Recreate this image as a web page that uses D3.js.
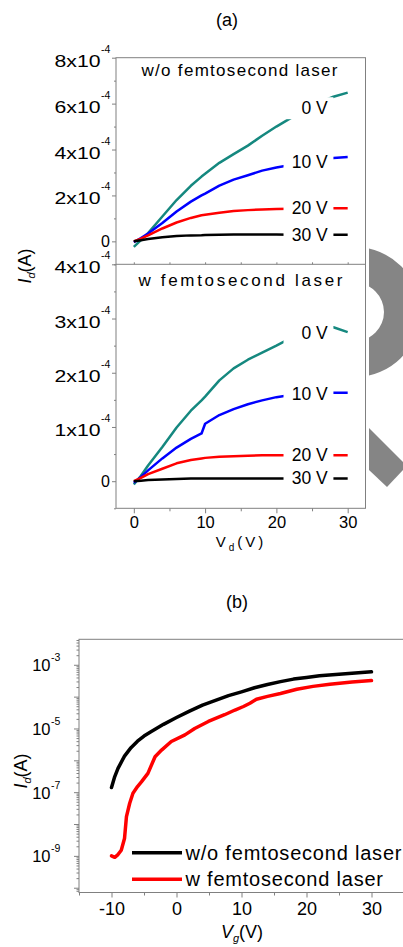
<!DOCTYPE html>
<html>
<head>
<meta charset="utf-8">
<script src="https://cdn.jsdelivr.net/npm/d3@7"></script>
<style>
  body { margin: 0; background: #fff; }
  text { font-family: "Liberation Sans", Arial, sans-serif; fill: #000; }
</style>
</head>
<body>
<script>
// ---- panel (a): output curves, Vd sweep at several gate voltages ----
var vdA = [0, 1, 2, 4, 6, 8, 9.5, 10, 12, 14, 16, 18, 20, 22, 24, 26, 28, 30];
var gateLabels = ["0 V", "10 V", "20 V", "30 V"];
var gateColors = ["#15887f", "#0000ff", "#ff0000", "#000000"];

// without femtosecond laser
var woLaser0V  = [-0.24e-4, 0.05e-4, 0.36e-4, 1.08e-4, 1.80e-4, 2.42e-4, 2.82e-4, 2.94e-4, 3.42e-4, 3.80e-4, 4.17e-4, 4.60e-4, 5.00e-4, 5.37e-4, 5.72e-4, 6.04e-4, 6.30e-4, 6.48e-4];
var woLaser10V = [-0.04e-4, 0.14e-4, 0.34e-4, 0.80e-4, 1.30e-4, 1.73e-4, 2.00e-4, 2.08e-4, 2.43e-4, 2.69e-4, 2.88e-4, 3.08e-4, 3.22e-4, 3.33e-4, 3.44e-4, 3.54e-4, 3.63e-4, 3.67e-4];
var woLaser20V = [0, 0.12e-4, 0.26e-4, 0.56e-4, 0.82e-4, 1.02e-4, 1.14e-4, 1.16e-4, 1.25e-4, 1.32e-4, 1.36e-4, 1.39e-4, 1.41e-4, 1.42e-4, 1.43e-4, 1.44e-4, 1.44e-4, 1.44e-4];
var woLaser30V = [0, 0.05e-4, 0.10e-4, 0.18e-4, 0.23e-4, 0.26e-4, 0.27e-4, 0.28e-4, 0.29e-4, 0.30e-4, 0.30e-4, 0.30e-4, 0.30e-4, 0.29e-4, 0.29e-4, 0.29e-4, 0.29e-4, 0.29e-4];

// with femtosecond laser
var wLaser0V  = [-0.06e-4, 0.10e-4, 0.29e-4, 0.63e-4, 0.99e-4, 1.30e-4, 1.49e-4, 1.56e-4, 1.86e-4, 2.08e-4, 2.24e-4, 2.37e-4, 2.50e-4, 2.64e-4, 2.72e-4, 2.78e-4, 2.84e-4, 2.75e-4];
var wLaser10V = [-0.03e-4, 0.08e-4, 0.20e-4, 0.42e-4, 0.62e-4, 0.78e-4, 0.88e-4, 1.06e-4, 1.22e-4, 1.33e-4, 1.42e-4, 1.49e-4, 1.55e-4, 1.59e-4, 1.61e-4, 1.62e-4, 1.63e-4, 1.63e-4];
var wLaser20V = [0, 0.06e-4, 0.13e-4, 0.23e-4, 0.33e-4, 0.39e-4, 0.42e-4, 0.43e-4, 0.45e-4, 0.46e-4, 0.47e-4, 0.48e-4, 0.48e-4, 0.48e-4, 0.48e-4, 0.48e-4, 0.48e-4, 0.48e-4];
var wLaser30V = [0, 0.01e-4, 0.02e-4, 0.03e-4, 0.04e-4, 0.05e-4, 0.05e-4, 0.05e-4, 0.05e-4, 0.05e-4, 0.05e-4, 0.05e-4, 0.05e-4, 0.05e-4, 0.05e-4, 0.05e-4, 0.05e-4, 0.05e-4];

var topTicks = [0, 2e-4, 4e-4, 6e-4, 8e-4];
var topMinor = [-1e-4, 1e-4, 3e-4, 5e-4, 7e-4];
var botTicks = [0, 1e-4, 2e-4, 3e-4, 4e-4];
var botMinor = [-0.5e-4, 0.5e-4, 1.5e-4, 2.5e-4, 3.5e-4];
var vdTicks = [0, 10, 20, 30];
var vdMinor = [5, 15, 25];

// ---- panel (b): transfer curves, log scale ----
var vgWithout = [-10, -9.5, -9, -8, -7, -6, -5, -4, -2, 0, 2, 4, 6, 8, 10, 12, 14, 16, 18, 20, 22, 24, 26, 28, 30];
var idWithout = [1.4e-7, 3.1e-7, 5.6e-7, 1.35e-6, 2.5e-6, 4.0e-6, 5.8e-6, 7.8e-6, 1.35e-5, 2.2e-5, 3.5e-5, 5.4e-5, 7.6e-5, 1.07e-4, 1.41e-4, 1.9e-4, 2.4e-4, 2.95e-4, 3.55e-4, 4.0e-4, 4.5e-4, 4.9e-4, 5.25e-4, 5.6e-4, 6.0e-4];
var vgWith = [-10, -9.5, -9, -8.5, -8, -7.7, -7.2, -6.7, -6, -5.4, -4.4, -3.3, -2.3, -0.8, 1.3, 2.8, 4.9, 7.4, 9, 10.3, 11.3, 12.3, 14, 16, 18.5, 21, 23.6, 27, 30];
var idWith = [1.0e-9, 9.0e-10, 1.1e-9, 1.5e-9, 3.5e-9, 1.7e-8, 4.5e-8, 9.3e-8, 1.5e-7, 2.1e-7, 3.9e-7, 1.3e-6, 2.1e-6, 3.9e-6, 6.3e-6, 1.0e-5, 1.66e-5, 2.7e-5, 3.8e-5, 4.9e-5, 6.2e-5, 8.3e-5, 1.02e-4, 1.26e-4, 1.7e-4, 2.1e-4, 2.45e-4, 2.9e-4, 3.2e-4];
var vgTicks = [-10, 0, 10, 20, 30];
var vgMinor = [-15, -5, 5, 15, 25];
var logLabelExps = [-9, -7, -5, -3];
var legendNames = ["w/o femtosecond laser", "w femtosecond laser"];
var legendColors = ["#000000", "#ff0000"];

var axisGrey = "#808080";

var svg = d3.select("body").append("svg")
  .attr("width", 403)
  .attr("height", 947);

// grey shapes on the right edge (part of the original figure background)
var clip = svg.append("clipPath").attr("id", "ringclip");
clip.append("rect").attr("x", 369).attr("y", 0).attr("width", 40).attr("height", 947);
svg.append("g")
  .attr("clip-path", "url(#ringclip)")
  .append("path")
  .attr("fill", "#858585")
  .attr("d", d3.arc().innerRadius(29).outerRadius(65).startAngle(0).endAngle(Math.PI * 2)())
  .attr("transform", "translate(355,312)");
svg.append("path")
  .attr("fill", "#858585")
  .attr("d", "M369,428 L403,462 L403,470 L387,487 L369,470 Z");

function valueAt(xs, ys, x0) {
  var i = d3.bisectLeft(xs, x0);
  var t = (x0 - xs[i - 1]) / (xs[i] - xs[i - 1]);
  return ys[i - 1] + t * (ys[i] - ys[i - 1]);
}

function cleanAxis(g) {
  g.select(".domain").remove();
  g.selectAll("line").attr("stroke", axisGrey);
}

// ================= panel (a) =================
var xA = d3.scaleLinear().domain([-2.5, 32.5]).range([116, 365.5]);
var yTop = d3.scaleLinear().domain([-1e-4, 8e-4]).range([264.3, 57.7]);
var yBot = d3.scaleLinear().domain([-0.5e-4, 4e-4]).range([508.3, 264.3]);

svg.append("text")
  .attr("x", 227).attr("y", 26)
  .attr("text-anchor", "middle")
  .attr("font-size", 18)
  .text("(a)");

function drawCurves(y, series) {
  var line = d3.line()
    .x(function(d, j) { return xA(vdA[j]); })
    .y(function(d) { return y(d); });

  svg.append("g").selectAll("path")
    .data(series)
    .join("path")
    .attr("d", line)
    .attr("fill", "none")
    .attr("stroke", function(d, i) { return gateColors[i]; })
    .attr("stroke-width", 2.5)
    .attr("stroke-linejoin", "round");

  // gate labels sit on the curve, with a white box that cuts the line
  var lab = svg.append("g").selectAll("g")
    .data(series)
    .join("g")
    .attr("transform", function(d) { return "translate(0," + y(valueAt(vdA, d, 24.5)) + ")"; });
  lab.append("rect")
    .attr("x", xA(21)).attr("y", -11)
    .attr("width", xA(28) - xA(21)).attr("height", 22)
    .attr("fill", "#fff");
  lab.append("text")
    .attr("x", xA(27.2)).attr("y", 6)
    .attr("text-anchor", "end")
    .attr("font-size", 17.5)
    .text(function(d, i) { return gateLabels[i]; });
}

drawCurves(yTop, [woLaser0V, woLaser10V, woLaser20V, woLaser30V]);
drawCurves(yBot, [wLaser0V, wLaser10V, wLaser20V, wLaser30V]);

// frame and divider
svg.append("rect")
  .attr("x", xA.range()[0]).attr("y", yTop.range()[1])
  .attr("width", xA.range()[1] - xA.range()[0])
  .attr("height", yBot.range()[0] - yTop.range()[1])
  .attr("fill", "none").attr("stroke", axisGrey);
svg.append("line")
  .attr("x1", xA.range()[0]).attr("x2", xA.range()[1])
  .attr("y1", yTop(-1e-4)).attr("y2", yTop(-1e-4))
  .attr("stroke", axisGrey);

// left ticks
svg.append("g").attr("transform", "translate(116,0)")
  .call(d3.axisLeft(yTop).tickValues(topTicks).tickSize(4).tickFormat("")).call(cleanAxis);
svg.append("g").attr("transform", "translate(116,0)")
  .call(d3.axisLeft(yTop).tickValues(topMinor).tickSize(2).tickFormat("")).call(cleanAxis);
svg.append("g").attr("transform", "translate(116,0)")
  .call(d3.axisLeft(yBot).tickValues(botTicks).tickSize(4).tickFormat("")).call(cleanAxis);
svg.append("g").attr("transform", "translate(116,0)")
  .call(d3.axisLeft(yBot).tickValues(botMinor).tickSize(2).tickFormat("")).call(cleanAxis);

// small ticks on the divider
svg.append("g").attr("transform", "translate(0," + yTop(-1e-4) + ")")
  .call(d3.axisTop(xA).tickValues(vdTicks.concat(vdMinor)).tickSize(2).tickFormat("")).call(cleanAxis);

function sciLabels(y, vals) {
  vals.forEach(function(v) {
    var ty = y(v);
    if (v === 0) {
      svg.append("text")
        .attr("x", 110).attr("y", ty + 5.5)
        .attr("text-anchor", "end").attr("font-size", 16)
        .text("0");
    } else {
      svg.append("text")
        .attr("x", 100.5).attr("y", ty + 9)
        .attr("text-anchor", "end").attr("font-size", 16)
        .attr("textLength", 46).attr("lengthAdjust", "spacingAndGlyphs")
        .text(Math.round(v * 1e4) + "x10");
      svg.append("text")
        .attr("x", 101).attr("y", ty - 5)
        .attr("font-size", 10.5)
        .text("-4");
    }
  });
}
sciLabels(yTop, topTicks);
sciLabels(yBot, botTicks);

// bottom axis
var xAxisA = svg.append("g").attr("transform", "translate(0," + yBot.range()[0] + ")")
  .call(d3.axisBottom(xA).tickValues(vdTicks).tickSize(5).tickPadding(3)
    .tickFormat(function(d) { return String(d); }));
xAxisA.call(cleanAxis);
xAxisA.selectAll("text").attr("font-size", 16.5).attr("font-family", null).attr("fill", "#000");
svg.append("g").attr("transform", "translate(0," + yBot.range()[0] + ")")
  .call(d3.axisBottom(xA).tickValues(vdMinor).tickSize(3).tickFormat("")).call(cleanAxis);

// in-panel titles
svg.append("text")
  .attr("x", 141.5).attr("y", 76)
  .attr("font-size", 17)
  .attr("textLength", 196).attr("lengthAdjust", "spacing")
  .text("w/o femtosecond laser");
svg.append("text")
  .attr("x", 138.5).attr("y", 286)
  .attr("font-size", 17)
  .attr("textLength", 204).attr("lengthAdjust", "spacing")
  .text("w femtosecond laser");

// axis titles (a)
var xtA = svg.append("text")
  .attr("x", 241).attr("y", 547)
  .attr("text-anchor", "middle")
  .attr("font-size", 15)
  .attr("letter-spacing", 3);
xtA.append("tspan").text("V");
xtA.append("tspan").attr("font-size", 10).attr("dy", 4).text("d");
xtA.append("tspan").attr("dy", -4).text("(V)");

var ytA = svg.append("text")
  .attr("transform", "translate(31,266) rotate(-90)")
  .attr("text-anchor", "middle")
  .attr("font-size", 18);
ytA.append("tspan").attr("font-style", "italic").text("I");
ytA.append("tspan").attr("font-style", "italic").attr("font-size", 11).attr("dy", 4).text("d");
ytA.append("tspan").attr("dy", -4).text("(A)");

// ================= panel (b) =================
var xB = d3.scaleLinear().domain([-15, 35]).range([79, 404]);
var yB = d3.scaleLog().domain([Math.pow(10, -10.15), Math.pow(10, -2.2)]).range([892.5, 639.3]);

svg.append("text")
  .attr("x", 237).attr("y", 608)
  .attr("text-anchor", "middle")
  .attr("font-size", 18)
  .text("(b)");

svg.append("rect")
  .attr("x", 79).attr("y", yB.range()[1])
  .attr("width", 325).attr("height", yB.range()[0] - yB.range()[1])
  .attr("fill", "none").attr("stroke", axisGrey);

var lineB = d3.line()
  .x(function(d) { return xB(d[0]); })
  .y(function(d) { return yB(d[1]); });

svg.append("path")
  .datum(d3.zip(vgWithout, idWithout))
  .attr("d", lineB)
  .attr("fill", "none").attr("stroke", legendColors[0])
  .attr("stroke-width", 3.5).attr("stroke-linejoin", "round").attr("stroke-linecap", "round");
svg.append("path")
  .datum(d3.zip(vgWith, idWith))
  .attr("d", lineB)
  .attr("fill", "none").attr("stroke", legendColors[1])
  .attr("stroke-width", 3.5).attr("stroke-linejoin", "round").attr("stroke-linecap", "round");

// log ticks
var allLog = yB.ticks();
var decades = allLog.filter(function(v) { return Math.abs(Math.log10(v) - Math.round(Math.log10(v))) < 1e-9; });
var minors = allLog.filter(function(v) { return decades.indexOf(v) < 0; });
svg.append("g").attr("transform", "translate(79,0)")
  .call(d3.axisLeft(yB).tickValues(decades).tickSize(5).tickFormat("")).call(cleanAxis);
svg.append("g").attr("transform", "translate(79,0)")
  .call(d3.axisLeft(yB).tickValues(minors).tickSize(2.5).tickFormat("")).call(cleanAxis);

logLabelExps.forEach(function(e) {
  var ty = yB(Math.pow(10, e));
  svg.append("text")
    .attr("x", 50.5).attr("y", ty + 6.5)
    .attr("text-anchor", "end").attr("font-size", 16.5)
    .text("10");
  svg.append("text")
    .attr("x", 51).attr("y", ty - 3.5)
    .attr("font-size", 10.5)
    .text(String(e));
});

var xAxisB = svg.append("g").attr("transform", "translate(0," + yB.range()[0] + ")")
  .call(d3.axisBottom(xB).tickValues(vgTicks).tickSize(5).tickPadding(5)
    .tickFormat(function(d) { return String(d); }));
xAxisB.call(cleanAxis);
xAxisB.selectAll("text").attr("font-size", 18).attr("font-family", null).attr("fill", "#000");
svg.append("g").attr("transform", "translate(0," + yB.range()[0] + ")")
  .call(d3.axisBottom(xB).tickValues(vgMinor).tickSize(3).tickFormat("")).call(cleanAxis);

// legend
var leg = svg.append("g").selectAll("g")
  .data(legendNames)
  .join("g")
  .attr("transform", function(d, i) { return "translate(0," + (852.7 + i * 26.6) + ")"; });
leg.append("line")
  .attr("x1", 132).attr("x2", 182)
  .attr("stroke", function(d, i) { return legendColors[i]; })
  .attr("stroke-width", 3.5);
leg.append("text")
  .attr("x", 185.5).attr("y", 7)
  .attr("font-size", 20)
  .attr("textLength", function(d, i) { return i === 0 ? 216 : 197.5; })
  .attr("lengthAdjust", "spacing")
  .text(function(d) { return d; });

// axis titles (b)
var xtB = svg.append("text")
  .attr("x", 242).attr("y", 938)
  .attr("text-anchor", "middle")
  .attr("font-size", 18);
xtB.append("tspan").attr("font-style", "italic").text("V");
xtB.append("tspan").attr("font-style", "italic").attr("font-size", 11).attr("dy", 4).text("g");
xtB.append("tspan").attr("dy", -4).text("(V)");

var ytB = svg.append("text")
  .attr("transform", "translate(27,771) rotate(-90)")
  .attr("text-anchor", "middle")
  .attr("font-size", 18);
ytB.append("tspan").attr("font-style", "italic").text("I");
ytB.append("tspan").attr("font-style", "italic").attr("font-size", 11).attr("dy", 4).text("d");
ytB.append("tspan").attr("dy", -4).text("(A)");
</script>
</body>
</html>
